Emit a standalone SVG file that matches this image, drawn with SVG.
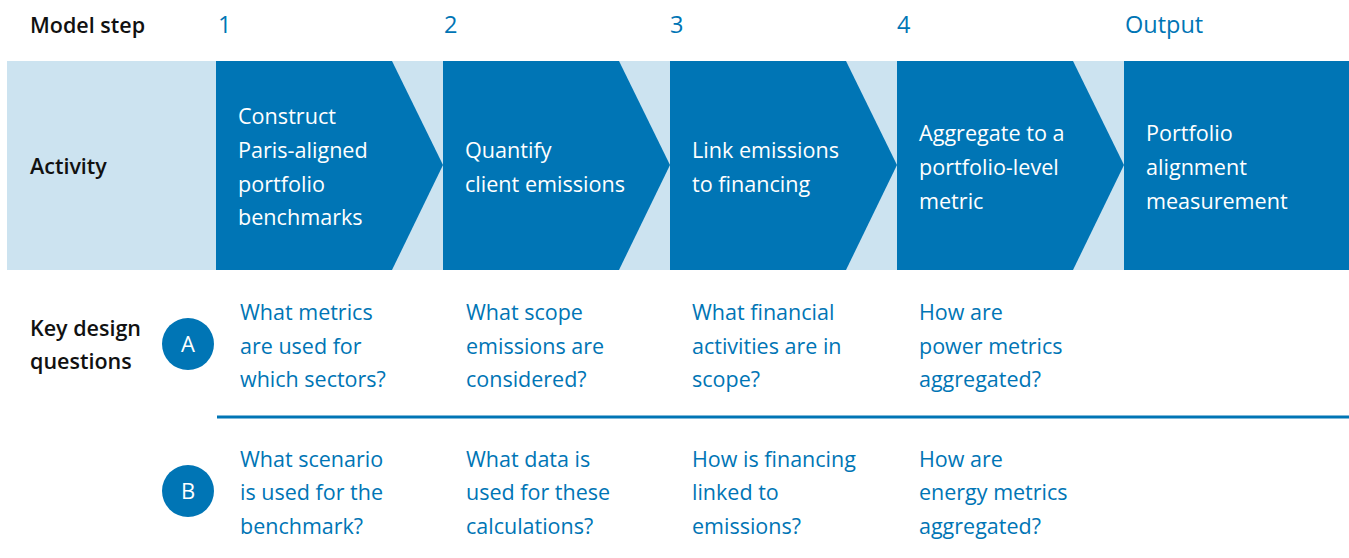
<svg xmlns="http://www.w3.org/2000/svg" width="1349" height="558" viewBox="0 0 1349 558">
<style>
.lbl{font-family:"Open Sans","Noto Sans",sans-serif;font-size:21.5px;font-weight:600;fill:#111}
.num{font-family:"Open Sans","Noto Sans",sans-serif;font-size:23.5px;fill:#0075B5}
.act{font-family:"Open Sans","Noto Sans",sans-serif;font-size:21.6px;fill:#fff}
.q{font-family:"Open Sans","Noto Sans",sans-serif;font-size:21.5px;fill:#0075B5}
.chev{fill:#0075B5}
.circ{fill:#0075B5}
.ctext{font-family:"Open Sans","Noto Sans",sans-serif;font-size:22px;fill:#fff;text-anchor:middle}
</style>
<rect width="1349" height="558" fill="#fff"/>
<rect x="7" y="61" width="1342" height="209" fill="#CCE3F0"/>
<g id="labels">
<text class="lbl" x="30" y="33">Model step</text>
<text class="lbl" x="30" y="174">Activity</text>
<text class="lbl" x="30" y="336">Key design</text>
<text class="lbl" x="30" y="369">questions</text>
</g>
<g id="steps">
<text class="num" x="218" y="33">1</text>
<text class="num" x="444" y="33">2</text>
<text class="num" x="670" y="33">3</text>
<text class="num" x="897" y="33">4</text>
<text class="num" x="1125" y="33">Output</text>
</g>
<g id="step1">
<polygon class="chev" points="216,61 392,61 443,165 392,270 216,270"/>
<text class="act" x="238" y="124">Construct</text>
<text class="act" x="238" y="158">Paris-aligned</text>
<text class="act" x="238" y="192">portfolio</text>
<text class="act" x="238" y="225">benchmarks</text>
</g>
<g id="step2">
<polygon class="chev" points="443,61 619,61 670,165 619,270 443,270"/>
<text class="act" x="465" y="158">Quantify</text>
<text class="act" x="465" y="192">client emissions</text>
</g>
<g id="step3">
<polygon class="chev" points="670,61 846,61 897,165 846,270 670,270"/>
<text class="act" x="692" y="158">Link emissions</text>
<text class="act" x="692" y="192">to financing</text>
</g>
<g id="step4">
<polygon class="chev" points="897,61 1073,61 1124,165 1073,270 897,270"/>
<text class="act" x="919" y="141">Aggregate to a</text>
<text class="act" x="919" y="175">portfolio-level</text>
<text class="act" x="919" y="209">metric</text>
</g>
<g id="output">
<rect class="chev" x="1124" y="61" width="225" height="209"/>
<text class="act" x="1146" y="141">Portfolio</text>
<text class="act" x="1146" y="175">alignment</text>
<text class="act" x="1146" y="209">measurement</text>
</g>
<g id="connectors">
<line x1="217" y1="417" x2="1349" y2="417" stroke="#0075B5" stroke-width="3"/>
</g>
<g id="circleA">
<circle class="circ" cx="188" cy="344" r="26"/>
<text class="ctext" x="188" y="352">A</text>
</g>
<g id="circleB">
<circle class="circ" cx="188" cy="491" r="26"/>
<text class="ctext" x="188" y="499">B</text>
</g>
<g id="questionsA">
<text class="q" x="240" y="320">What metrics</text>
<text class="q" x="240" y="354">are used for</text>
<text class="q" x="240" y="387">which sectors?</text>
<text class="q" x="466" y="320">What scope</text>
<text class="q" x="466" y="354">emissions are</text>
<text class="q" x="466" y="387">considered?</text>
<text class="q" x="692" y="320">What financial</text>
<text class="q" x="692" y="354">activities are in</text>
<text class="q" x="692" y="387">scope?</text>
<text class="q" x="919" y="320">How are</text>
<text class="q" x="919" y="354">power metrics</text>
<text class="q" x="919" y="387">aggregated?</text>
</g>
<g id="questionsB">
<text class="q" x="240" y="467">What scenario</text>
<text class="q" x="240" y="500">is used for the</text>
<text class="q" x="240" y="534">benchmark?</text>
<text class="q" x="466" y="467">What data is</text>
<text class="q" x="466" y="500">used for these</text>
<text class="q" x="466" y="534">calculations?</text>
<text class="q" x="692" y="467">How is financing</text>
<text class="q" x="692" y="500">linked to</text>
<text class="q" x="692" y="534">emissions?</text>
<text class="q" x="919" y="467">How are</text>
<text class="q" x="919" y="500">energy metrics</text>
<text class="q" x="919" y="534">aggregated?</text>
</g>
</svg>
